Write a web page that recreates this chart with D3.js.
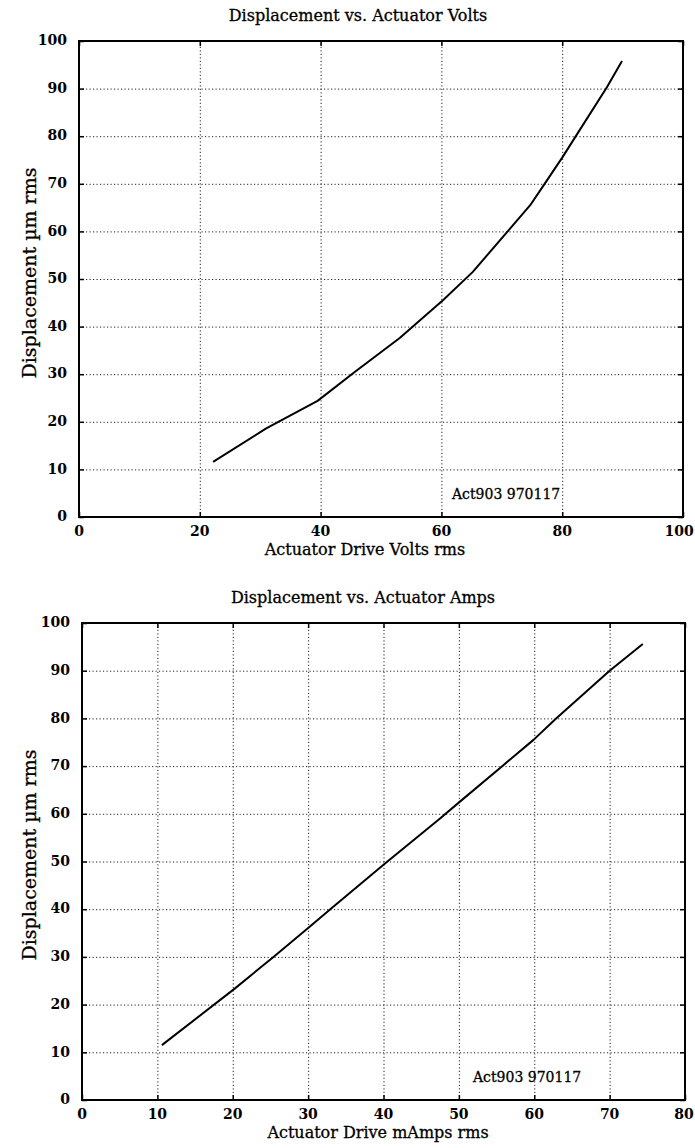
<!DOCTYPE html>
<html>
<head>
<meta charset="utf-8">
<script src="https://cdn.jsdelivr.net/npm/d3@7"></script>
<style>
  body { margin: 0; background: #fff; }
  svg text { font-family: "DejaVu Serif", serif; fill: #000; stroke: #000; stroke-width: 0.3; }
  .grid line { stroke: #222; stroke-width: 1; stroke-dasharray: 1.2,2.3; }
  .grid path { display: none; }
  .axis path { display: none; }
  .axis line { stroke: #000; stroke-width: 1.5; }
  .ticklabels text { font-size: 14px; font-weight: bold; stroke-width: 0; }
</style>
</head>
<body>
<svg id="chart" width="695" height="1148"></svg>
<script>
var voltsX = [22.2, 31.0, 39.5, 45.7, 53.1, 60.3, 65.2, 70.9, 74.7, 77.2, 80.0, 82.6, 87.4, 89.9];
var voltsY = [11.6, 18.6, 24.4, 30.5, 37.6, 45.6, 51.5, 59.9, 65.5, 70.2, 75.5, 80.7, 90.3, 95.8];

var ampsX = [10.6, 20.3, 25.4, 30.2, 33.1, 40.2, 47.5, 50.1, 55.9, 59.9, 62.9, 70.0, 74.4];
var ampsY = [11.5, 23.4, 30.0, 36.3, 40.2, 49.6, 59.0, 62.5, 70.2, 75.5, 80.0, 90.0, 95.6];

var voltsTicks = [0, 20, 40, 60, 80, 100];
var ampsTicks = [0, 10, 20, 30, 40, 50, 60, 70, 80];
var dispTicks = [0, 10, 20, 30, 40, 50, 60, 70, 80, 90, 100];

var titles = ['Displacement vs. Actuator Volts', 'Displacement vs. Actuator Amps'];
var xLabels = ['Actuator Drive Volts rms', 'Actuator Drive mAmps rms'];
var yLabel = 'Displacement \u00b5m rms';
var note = 'Act903 970117';

var pageWidth = 695;

var Panel = function Panel(opts) {
  this.left = opts.left;
  this.right = opts.right;
  this.top = opts.top;
  this.bottom = opts.bottom;
  this.xMax = opts.xMax;
  this.xTicks = opts.xTicks;
  this.xs = opts.xs;
  this.ys = opts.ys;
  this.title = opts.title;
  this.xLabel = opts.xLabel;
  this.titleX = opts.titleX;
  this.xLabelX = opts.xLabelX;
  this.noteX = opts.noteX;
  this.labelY = opts.labelY;

  this.x = d3.scaleLinear().domain([0, this.xMax]).range([this.left, this.right]);
  this.y = d3.scaleLinear().domain([0, 100]).range([this.bottom, this.top]);
};

Panel.prototype.draw = function draw(svg) {
  var x = this.x, y = this.y;
  var w = this.right - this.left;
  var h = this.bottom - this.top;
  var g = svg.append('g');

  // dotted grid, inner ticks only
  g.append('g').attr('class', 'grid')
    .attr('transform', 'translate(0,' + this.bottom + ')')
    .call(d3.axisBottom(x).tickValues(this.xTicks.slice(1, -1)).tickSize(-h).tickFormat(''));
  g.append('g').attr('class', 'grid')
    .attr('transform', 'translate(' + this.left + ',0)')
    .call(d3.axisLeft(y).tickValues(dispTicks.slice(1, -1)).tickSize(-w).tickFormat(''));

  // inward tick marks on all four sides
  g.append('g').attr('class', 'axis')
    .attr('transform', 'translate(0,' + this.bottom + ')')
    .call(d3.axisBottom(x).tickValues(this.xTicks).tickSize(-5).tickFormat(''));
  g.append('g').attr('class', 'axis')
    .attr('transform', 'translate(0,' + this.top + ')')
    .call(d3.axisTop(x).tickValues(this.xTicks).tickSize(-5).tickFormat(''));
  g.append('g').attr('class', 'axis')
    .attr('transform', 'translate(' + this.left + ',0)')
    .call(d3.axisLeft(y).tickValues(dispTicks).tickSize(-5).tickFormat(''));
  g.append('g').attr('class', 'axis')
    .attr('transform', 'translate(' + this.right + ',0)')
    .call(d3.axisRight(y).tickValues(dispTicks).tickSize(-5).tickFormat(''));

  // tick labels
  var xl = g.append('g').attr('class', 'ticklabels')
    .selectAll('text').data(this.xTicks).enter().append('text')
    .attr('x', function(d) { return x(d); })
    .attr('y', this.bottom + 19)
    .attr('text-anchor', 'middle')
    .text(function(d) { return d; });
  // keep the last label inside the page
  xl.each(function() {
    var b = this.getBBox();
    if (b.x + b.width > pageWidth - 1) {
      d3.select(this).attr('dx', (pageWidth - 1) - (b.x + b.width));
    }
  });
  g.append('g').attr('class', 'ticklabels')
    .selectAll('text').data(dispTicks).enter().append('text')
    .attr('x', this.left - 12)
    .attr('y', function(d) { return y(d); })
    .attr('dy', '0.3em')
    .attr('text-anchor', 'end')
    .text(function(d) { return d; });

  // frame
  g.append('rect')
    .attr('x', this.left).attr('y', this.top)
    .attr('width', w).attr('height', h)
    .attr('fill', 'none').attr('stroke', '#000').attr('stroke-width', 2);

  // the curve
  var pts = d3.zip(this.xs, this.ys);
  g.append('path')
    .datum(pts)
    .attr('fill', 'none')
    .attr('stroke', '#000')
    .attr('stroke-width', 2)
    .attr('stroke-linejoin', 'round')
    .attr('d', d3.line().x(function(d) { return x(d[0]); }).y(function(d) { return y(d[1]); }));

  // texts
  g.append('text')
    .attr('x', this.titleX).attr('y', this.top - 20)
    .attr('text-anchor', 'middle')
    .style('font-size', '16px')
    .text(this.title);
  g.append('text')
    .attr('x', this.xLabelX).attr('y', this.bottom + 38)
    .attr('text-anchor', 'middle')
    .style('font-size', '16px')
    .text(this.xLabel);
  g.append('text')
    .attr('transform', 'translate(36,' + this.labelY + ') rotate(-90)')
    .attr('text-anchor', 'middle')
    .style('font-size', '19px')
    .text(yLabel);
  g.append('text')
    .attr('x', this.noteX).attr('y', this.bottom - 18)
    .style('font-size', '14px')
    .text(note);
};

var svg = d3.select('#chart');

var voltsPanel = new Panel({
  left: 79, right: 683, top: 41, bottom: 517,
  xMax: 100, xTicks: voltsTicks, xs: voltsX, ys: voltsY,
  title: titles[0], xLabel: xLabels[0],
  titleX: 358, xLabelX: 365, noteX: 452, labelY: 273
});
voltsPanel.draw(svg);

var ampsPanel = new Panel({
  left: 82, right: 685, top: 623, bottom: 1100,
  xMax: 80, xTicks: ampsTicks, xs: ampsX, ys: ampsY,
  title: titles[1], xLabel: xLabels[1],
  titleX: 363, xLabelX: 378, noteX: 473, labelY: 855
});
ampsPanel.draw(svg);
</script>
</body>
</html>
